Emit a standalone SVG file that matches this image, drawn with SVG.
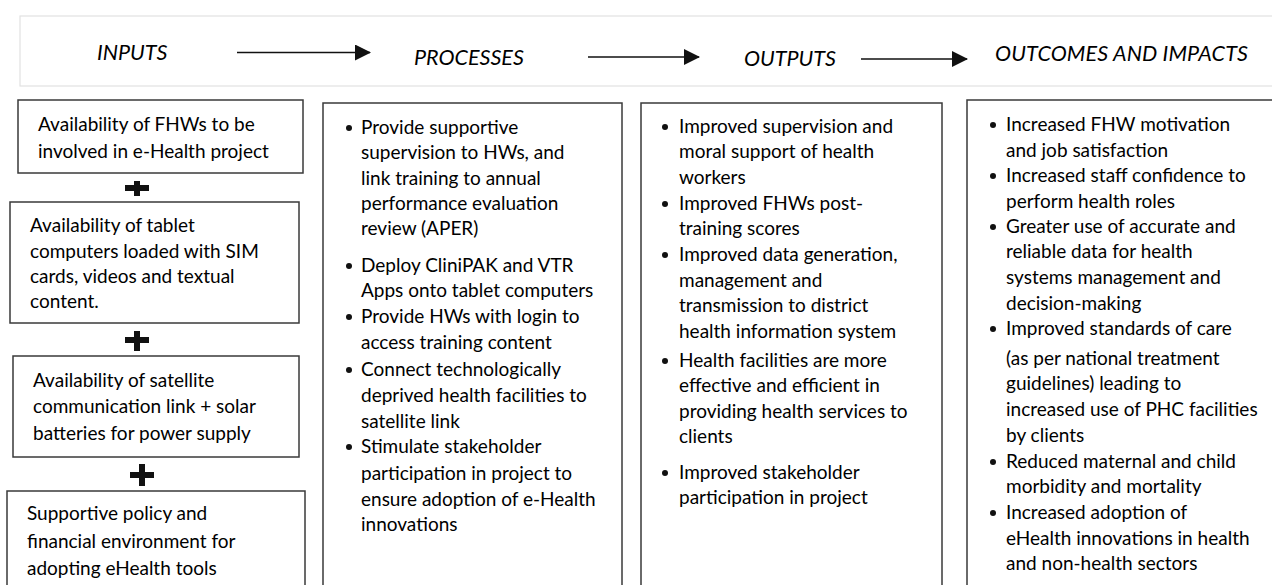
<svg xmlns="http://www.w3.org/2000/svg" width="1272" height="585" viewBox="0 0 1272 585">
<style>
.bg{fill:#ffffff}
.hdr{fill:none;stroke:#e2e2e2;stroke-width:1.2}
.box{fill:#ffffff;stroke:#3a3a3a;stroke-width:1.5}
.t{font-family:Lato,"Open Sans",sans-serif;font-size:19px;fill:#000}
.h{font-family:Lato,"Open Sans",sans-serif;font-size:21.5px;font-style:italic;fill:#000}
.plus{fill:#111}
.bul{fill:#111}
.conn{stroke:#111;stroke-width:1.6;fill:none}
</style>
<defs>
<marker id="ah" markerWidth="16" markerHeight="16" refX="15" refY="8" orient="auto" markerUnits="userSpaceOnUse">
<path d="M0,0 L16,8 L0,16 Z" fill="#111"/>
</marker>
</defs>
<rect class="bg" x="0" y="0" width="1272" height="585"/>
<g id="header">
<rect class="hdr" x="20" y="16" width="1262" height="70"/>
<text class="h" x="97" y="60">INPUTS</text>
<text class="h" x="414" y="65">PROCESSES</text>
<text class="h" x="744" y="66">OUTPUTS</text>
<text class="h" x="995" y="61" textLength="253">OUTCOMES AND IMPACTS</text>
</g>
<g id="connectors">
<line class="conn" x1="237" y1="52.5" x2="370" y2="52.5" marker-end="url(#ah)"/>
<line class="conn" x1="588" y1="57" x2="699" y2="57" marker-end="url(#ah)"/>
<line class="conn" x1="861" y1="59" x2="967" y2="59" marker-end="url(#ah)"/>
</g>
<g id="input1">
<rect class="box" x="18" y="100" width="285" height="73"/>
<text class="t"><tspan x="38" y="131">Availability of FHWs to be</tspan><tspan x="38" y="158">involved in e-Health project</tspan></text>
</g>
<g id="plus1"><path class="plus" d="M125,185 h24 v6 h-24 Z M134,181 h6 v15 h-6 Z"/></g>
<g id="input2">
<rect class="box" x="10" y="202" width="289" height="121"/>
<text class="t"><tspan x="30" y="232">Availability of tablet</tspan><tspan x="30" y="258">computers loaded with SIM</tspan><tspan x="30" y="283">cards, videos and textual</tspan><tspan x="30" y="308">content.</tspan></text>
</g>
<g id="plus2"><path class="plus" d="M125,337 h24 v6 h-24 Z M134,331 h6 v20 h-6 Z"/></g>
<g id="input3">
<rect class="box" x="13" y="356" width="286" height="101"/>
<text class="t"><tspan x="33" y="387">Availability of satellite</tspan><tspan x="33" y="413">communication link + solar</tspan><tspan x="33" y="440">batteries for power supply</tspan></text>
</g>
<g id="plus3"><path class="plus" d="M130,472 h24 v6 h-24 Z M139,464 h6 v22 h-6 Z"/></g>
<g id="input4">
<rect class="box" x="7" y="491" width="298" height="110"/>
<text class="t"><tspan x="27" y="520">Supportive policy and</tspan><tspan x="27" y="548">financial environment for</tspan><tspan x="27" y="575">adopting eHealth tools</tspan></text>
</g>
<g id="processes">
<rect class="box" x="323" y="103" width="299" height="500"/>
<circle class="bul" cx="349" cy="128" r="3"/>
<circle class="bul" cx="349" cy="266" r="3"/>
<circle class="bul" cx="349" cy="317" r="3"/>
<circle class="bul" cx="349" cy="370" r="3"/>
<circle class="bul" cx="349" cy="447" r="3"/>
<text class="t"><tspan x="361" y="134">Provide supportive</tspan><tspan x="361" y="159">supervision to HWs, and</tspan><tspan x="361" y="185">link training to annual</tspan><tspan x="361" y="210">performance evaluation</tspan><tspan x="361" y="235">review (APER)</tspan><tspan x="361" y="272">Deploy CliniPAK and VTR</tspan><tspan x="361" y="297">Apps onto tablet computers</tspan><tspan x="361" y="323">Provide HWs with login to</tspan><tspan x="361" y="349">access training content</tspan><tspan x="361" y="376">Connect technologically</tspan><tspan x="361" y="402">deprived health facilities to</tspan><tspan x="361" y="428">satellite link</tspan><tspan x="361" y="453">Stimulate stakeholder</tspan><tspan x="361" y="480">participation in project to</tspan><tspan x="361" y="506">ensure adoption of e-Health</tspan><tspan x="361" y="531">innovations</tspan></text>
</g>
<g id="outputs">
<rect class="box" x="641" y="103" width="301" height="500"/>
<circle class="bul" cx="665" cy="127" r="3"/>
<circle class="bul" cx="665" cy="204" r="3"/>
<circle class="bul" cx="665" cy="255" r="3"/>
<circle class="bul" cx="665" cy="361" r="3"/>
<circle class="bul" cx="665" cy="473" r="3"/>
<text class="t"><tspan x="679" y="133">Improved supervision and</tspan><tspan x="679" y="158">moral support of health</tspan><tspan x="679" y="184">workers</tspan><tspan x="679" y="210">Improved FHWs post-</tspan><tspan x="679" y="235">training scores</tspan><tspan x="679" y="261">Improved data generation,</tspan><tspan x="679" y="287">management and</tspan><tspan x="679" y="312">transmission to district</tspan><tspan x="679" y="338">health information system</tspan><tspan x="679" y="367">Health facilities are more</tspan><tspan x="679" y="392">effective and efficient in</tspan><tspan x="679" y="418">providing health services to</tspan><tspan x="679" y="443">clients</tspan><tspan x="679" y="479">Improved stakeholder</tspan><tspan x="679" y="504">participation in project</tspan></text>
</g>
<g id="outcomes">
<rect class="box" x="967" y="100" width="320" height="500"/>
<circle class="bul" cx="993" cy="125" r="3"/>
<circle class="bul" cx="993" cy="176" r="3"/>
<circle class="bul" cx="993" cy="227" r="3"/>
<circle class="bul" cx="993" cy="329" r="3"/>
<circle class="bul" cx="993" cy="462" r="3"/>
<circle class="bul" cx="993" cy="513" r="3"/>
<text class="t"><tspan x="1006" y="131">Increased FHW motivation</tspan><tspan x="1006" y="157">and job satisfaction</tspan><tspan x="1006" y="182">Increased staff confidence to</tspan><tspan x="1006" y="208">perform health roles</tspan><tspan x="1006" y="233">Greater use of accurate and</tspan><tspan x="1006" y="258">reliable data for health</tspan><tspan x="1006" y="284">systems management and</tspan><tspan x="1006" y="310">decision-making</tspan><tspan x="1006" y="335">Improved standards of care</tspan><tspan x="1006" y="365">(as per national treatment</tspan><tspan x="1006" y="390">guidelines) leading to</tspan><tspan x="1006" y="416">increased use of PHC facilities</tspan><tspan x="1006" y="442">by clients</tspan><tspan x="1006" y="468">Reduced maternal and child</tspan><tspan x="1006" y="493">morbidity and mortality</tspan><tspan x="1006" y="519">Increased adoption of</tspan><tspan x="1006" y="545">eHealth innovations in health</tspan><tspan x="1006" y="570">and non-health sectors</tspan></text>
</g>
</svg>
